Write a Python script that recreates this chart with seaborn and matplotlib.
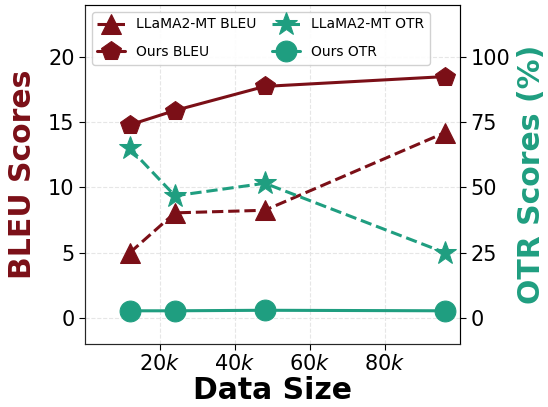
import numpy as np
import matplotlib
matplotlib.use("Agg")
import matplotlib.pyplot as plt
import seaborn as sns

data_size = [12000, 24000, 48000, 96000]
llama_bleu = [5.0, 8.05, 8.25, 14.2]
ours_bleu = [14.8, 15.9, 17.75, 18.5]
llama_otr = [65.0, 46.8, 51.6, 25.0]
ours_otr = [2.7, 2.7, 2.9, 2.7]

red = "#7b0f17"
teal = "#1f9e80"

sns.set_style("white")
plt.rcParams["font.family"] = ["DejaVu Sans"]
plt.rcParams["text.color"] = "black"
plt.rcParams["axes.labelcolor"] = "black"
plt.rcParams["xtick.color"] = "black"
plt.rcParams["ytick.color"] = "black"

fig, ax = plt.subplots(figsize=(5.48, 4.07), dpi=100)
ax2 = ax.twinx()

sns.lineplot(x=data_size, y=llama_bleu, ax=ax, color=red, linestyle="--", lw=2.2,
             marker="^", markersize=14, markeredgecolor=red,
             label="LLaMA2-MT BLEU", legend=False)
sns.lineplot(x=data_size, y=ours_bleu, ax=ax, color=red, linestyle="-", lw=2.2,
             marker="p", markersize=15, markeredgecolor=red,
             label="Ours BLEU", legend=False)
sns.lineplot(x=data_size, y=llama_otr, ax=ax2, color=teal, linestyle="--", lw=2.2,
             marker="*", markersize=17, markeredgecolor=teal,
             label="LLaMA2-MT OTR", legend=False)
sns.lineplot(x=data_size, y=ours_otr, ax=ax2, color=teal, linestyle="-", lw=2.2,
             marker="o", markersize=15, markeredgecolor=teal,
             label="Ours OTR", legend=False)

ax.set_xlim(0, 100000)
ax.set_ylim(-2, 24)
ax2.set_ylim(-10, 120)
ax.set_xticks([20000, 40000, 60000, 80000])
ax.set_xticklabels(["20$k$", "40$k$", "60$k$", "80$k$"])
ax.set_yticks([0, 5, 10, 15, 20])
ax2.set_yticks([0, 25, 50, 75, 100])
ax.tick_params(labelsize=15, length=4, left=True, bottom=True)
ax2.tick_params(labelsize=15, length=4, right=True)
ax.grid(True, linestyle="--", color="#e6e6e6", lw=0.8)

ax.set_xlabel("Data Size", fontsize=21.5, fontweight="bold", labelpad=1)
ax.set_ylabel("BLEU Scores", fontsize=21.5, fontweight="bold", color=red, labelpad=8)
ax2.set_ylabel("OTR Scores (%)", fontsize=21.5, fontweight="bold", color=teal, labelpad=5)

for s in ax.spines.values():
    s.set_color("#555555")
ax2.spines["right"].set_color("black")
ax2.spines["top"].set_color("black")

h1, l1 = ax.get_legend_handles_labels()
h2, l2 = ax2.get_legend_handles_labels()
handles = [h1[0], h1[1], h2[0], h2[1]]
labels = [l1[0], l1[1], l2[0], l2[1]]
ax2.legend(handles, labels, loc="upper left", ncol=2, fontsize=10, framealpha=0.9,
           labelspacing=1.0, columnspacing=1.1)

fig.subplots_adjust(left=0.155, right=0.839, top=0.988, bottom=0.155)
plt.savefig("out.png", dpi=100)
